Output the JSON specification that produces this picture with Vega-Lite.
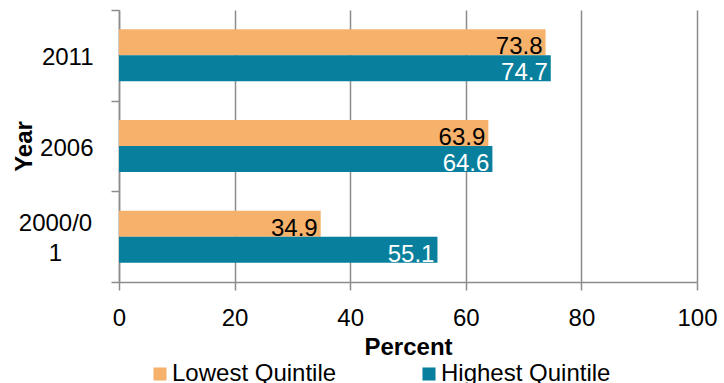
{
  "$schema": "https://vega.github.io/schema/vega-lite/v6.json",
  "width": 578,
  "height": 272,
  "autosize": {"type": "none"},
  "padding": {"left": 119, "top": 10, "right": 27, "bottom": 101},
  "background": "white",
  "config": {
    "view": {"stroke": null},
    "font": "Liberation Sans",
    "legend": {"padding": 0}
  },
  "data": {
    "values": [
      {"year": "2011", "group": "Lowest Quintile", "percent": 73.8},
      {"year": "2011", "group": "Highest Quintile", "percent": 74.7},
      {"year": "2006", "group": "Lowest Quintile", "percent": 63.9},
      {"year": "2006", "group": "Highest Quintile", "percent": 64.6},
      {"year": "2000/01", "group": "Lowest Quintile", "percent": 34.9},
      {"year": "2000/01", "group": "Highest Quintile", "percent": 55.1}
    ]
  },
  "encoding": {
    "x": {
      "field": "percent", "type": "quantitative",
      "scale": {"domain": [0, 100], "nice": false},
      "axis": {
        "title": "Percent", "titleFontSize": 24, "titleFontWeight": "bold", "titleColor": "black", "titlePadding": 5,
        "values": [0, 20, 40, 60, 80, 100],
        "labelFontSize": 24, "labelColor": "black", "labelPadding": 16, "labelFlush": false,
        "tickSize": 8, "tickColor": "#8c8c8c", "tickWidth": 1.5,
        "domainColor": "#8c8c8c", "domainWidth": 1.5,
        "grid": true, "gridColor": "#8c8c8c", "gridWidth": 1.5
      }
    }
  },
  "layer": [
    {
      "mark": {"type": "bar"},
      "encoding": {
        "y": {
          "field": "year", "type": "nominal",
          "sort": ["2011", "2006", "2000/01"],
          "scale": {"paddingInner": 0.427, "paddingOuter": 0.2135},
          "axis": null
        },
        "yOffset": {"field": "group", "type": "nominal", "sort": ["Lowest Quintile", "Highest Quintile"], "scale": {"paddingInner": 0}},
        "color": {
          "field": "group", "type": "nominal",
          "scale": {"domain": ["Lowest Quintile", "Highest Quintile"], "range": ["#F6B26B", "#077F9D"]},
          "legend": {
            "title": null, "orient": "none", "direction": "horizontal",
            "legendX": 29, "legendY": 352,
            "symbolType": "square", "symbolSize": 170, "symbolStrokeWidth": 0,
            "labelFontSize": 24, "labelColor": "black", "labelOffset": 0,
            "columnPadding": 80, "labelLimit": 300
          }
        }
      }
    },
    {
      "mark": {"type": "text", "align": "right", "baseline": "alphabetic", "dx": -3, "dy": 12, "fontSize": 24},
      "encoding": {
        "y": {
          "field": "year", "type": "nominal",
          "sort": ["2011", "2006", "2000/01"],
          "scale": {"paddingInner": 0.427, "paddingOuter": 0.2135},
          "axis": null
        },
        "yOffset": {"field": "group", "type": "nominal", "sort": ["Lowest Quintile", "Highest Quintile"], "scale": {"paddingInner": 0}},
        "text": {"field": "percent", "type": "quantitative", "format": ".1f"},
        "color": {"condition": {"test": "datum.group == 'Highest Quintile'", "value": "white"}, "value": "black"}
      }
    },
    {
      "mark": {"type": "bar", "opacity": 0},
      "encoding": {
        "y": {
          "field": "year", "type": "nominal",
          "sort": ["2011", "2006", "2000/01"],
          "scale": {"paddingInner": 0, "paddingOuter": 0},
          "axis": {
            "orient": "left",
            "title": "Year", "titleFontSize": 24, "titleFontWeight": "bold",
            "titleColor": "black", "titleX": -95, "titleY": 136, "titleBaseline": "middle", "titleAngle": -90,
            "labelFontSize": 24, "labelColor": "black",
            "labelPadding": {"condition": {"test": "datum.value == '2000/01'", "value": 56}, "value": 18},
            "labelAlign": {"condition": {"test": "datum.value == '2000/01'", "value": "center"}, "value": "right"},
            "labelExpr": "datum.value == '2000/01' ? ['2000/0', '1'] : datum.value",
            "labelLineHeight": 30,
            "labelOffset": {"condition": {"test": "datum.value == '2000/01'", "value": -13}, "value": 2},
            "tickBand": "extent", "tickSize": 8, "tickColor": "#8c8c8c", "tickWidth": 1.5,
            "domainColor": "#8c8c8c", "domainWidth": 1.5, "grid": false
          }
        }
      }
    }
  ],
  "resolve": {"scale": {"y": "independent"}, "axis": {"y": "independent"}}
}
